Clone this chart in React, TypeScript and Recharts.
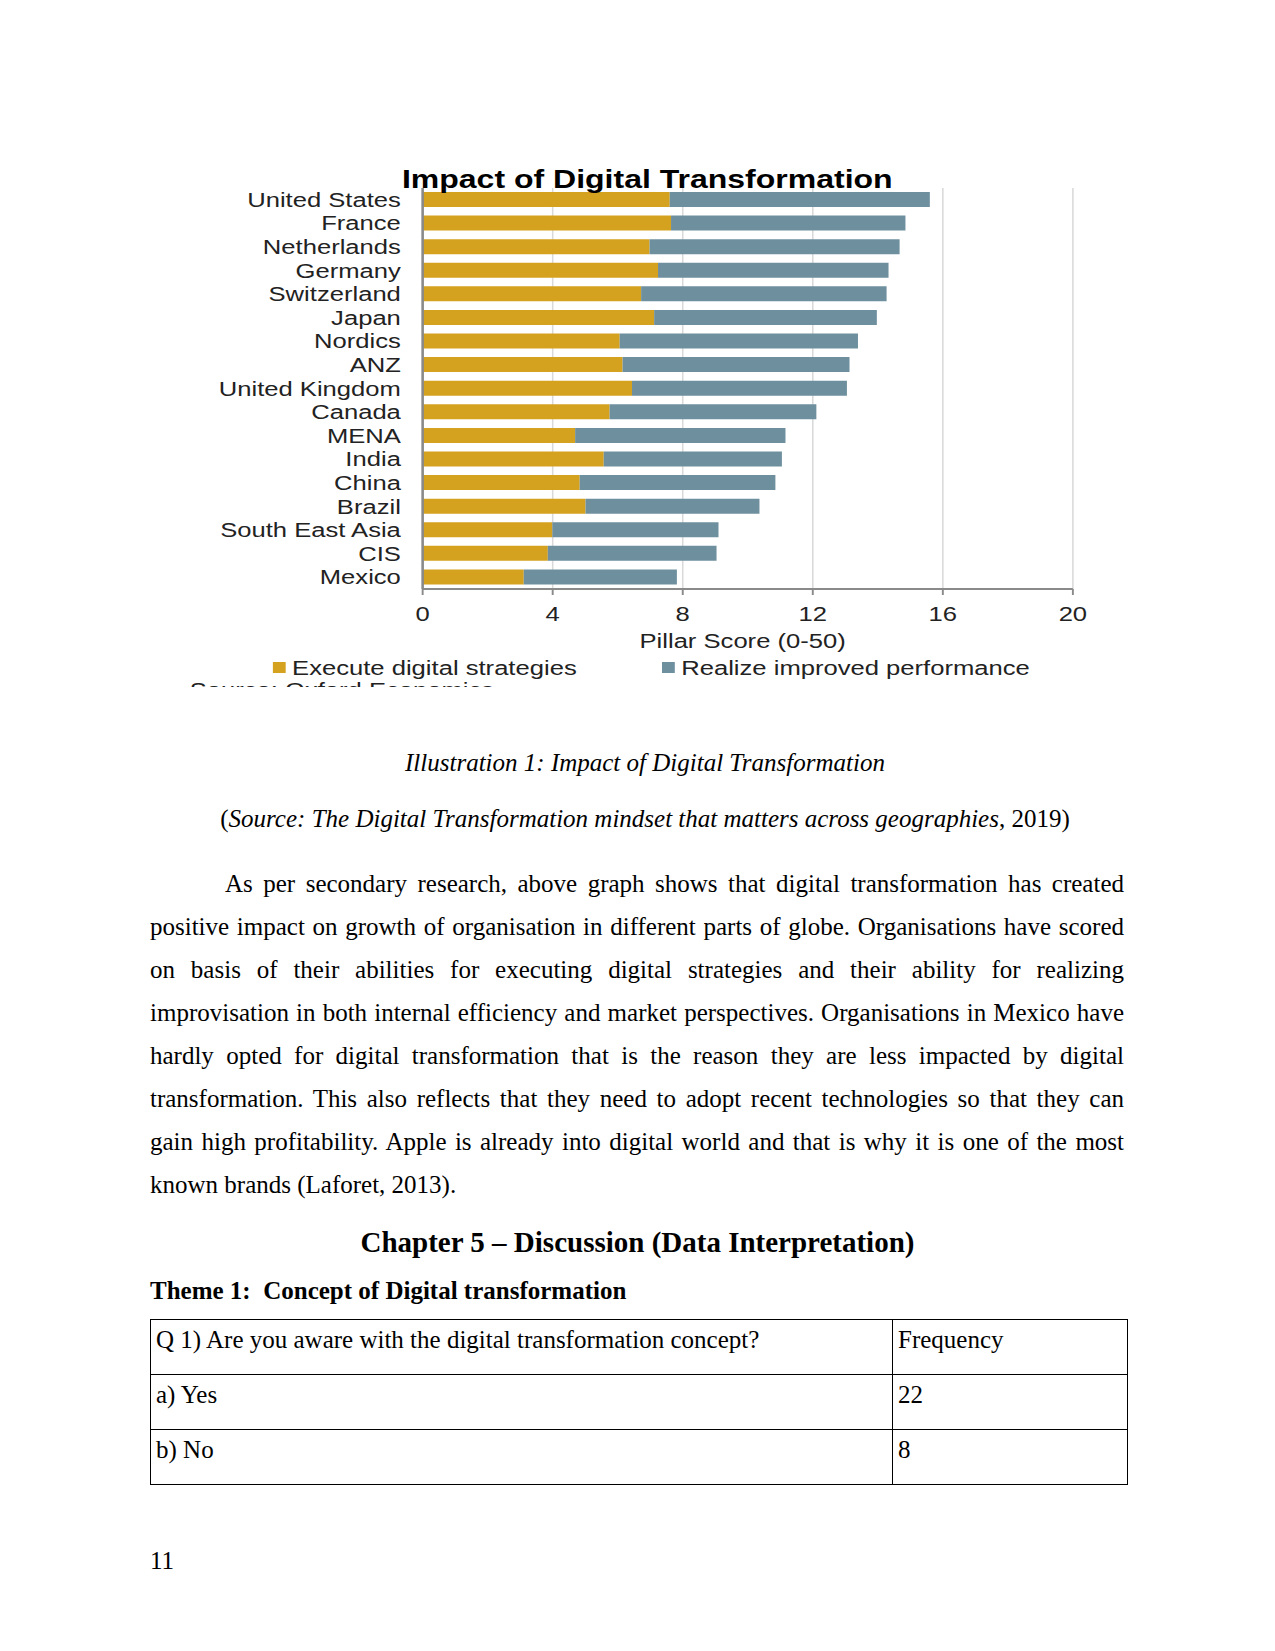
import React from "react";
import { BarChart, Bar, XAxis, YAxis, CartesianGrid, Label } from "recharts";

// chart data
const countries = [
  "United States",
  "France",
  "Netherlands",
  "Germany",
  "Switzerland",
  "Japan",
  "Nordics",
  "ANZ",
  "United Kingdom",
  "Canada",
  "MENA",
  "India",
  "China",
  "Brazil",
  "South East Asia",
  "CIS",
  "Mexico",
];
const executeScores = [7.6, 7.64, 6.98, 7.24, 6.72, 7.12, 6.06, 6.15, 6.44, 5.75, 4.69, 5.57, 4.83, 5.01, 3.99, 3.85, 3.11];
const realizeScores = [8.0, 7.21, 7.69, 7.09, 7.55, 6.85, 7.33, 6.98, 6.61, 6.36, 6.47, 5.48, 6.02, 5.35, 5.11, 5.19, 4.71];
const xTicks = [0, 4, 8, 12, 16, 20];

const seriesNames = ["Execute digital strategies", "Realize improved performance"];

const paragraphLines = [
  "As per secondary research, above graph shows that digital transformation has created",
  "positive impact on growth of organisation in different parts of globe. Organisations have scored",
  "on basis of their abilities for executing digital strategies and their ability for realizing",
  "improvisation in both internal efficiency and market perspectives. Organisations in Mexico have",
  "hardly opted for digital transformation that is the reason they are less impacted by digital",
  "transformation. This also reflects that they need to adopt recent technologies so that they can",
  "gain high profitability. Apple is already into digital world and that is why it is one of the most",
  "known brands (Laforet, 2013).",
];

const tableRows = [
  ["Q 1) Are you aware with the digital transformation concept?", "Frequency"],
  ["a) Yes", "22"],
  ["b) No", "8"],
];

const GOLD = "#D4A21F";
const SLATE = "#6E8F9E";
const AXIS = "#8a8a8a";
const INK = "#222";
const SANS = '"Liberation Sans", Arial, sans-serif';
const SERIF = '"Liberation Serif", "Times New Roman", serif';

// the chart image in the reference is stretched horizontally
const STRETCH = 1.28;
const CHART_W = 741;
const CHART_H = 515;

const chartData = countries.map((c, i) => ({
  country: c,
  execute: executeScores[i],
  realize: realizeScores[i],
}));

function ImpactChart() {
  const colors = [GOLD, SLATE];
  const legendX = [96, 400];
  return (
    <div
      style={{
        position: "absolute",
        left: 150,
        top: 150,
        width: CHART_W,
        height: 545,
        transform: `scaleX(${STRETCH})`,
        transformOrigin: "0 0",
        fontFamily: SANS,
      }}
    >
      <div
        style={{
          position: "absolute",
          left: 0,
          top: 17,
          width: 777,
          textAlign: "center",
          fontSize: 25,
          lineHeight: "25px",
          fontWeight: "bold",
          color: "#000",
          zIndex: 2,
        }}
      >
        Impact of Digital Transformation
      </div>
      <BarChart
        width={CHART_W}
        height={CHART_H}
        data={chartData}
        layout="vertical"
        margin={{ top: 38, right: 20, bottom: 16, left: 0 }}
        barSize={15}
      >
        <CartesianGrid horizontal={false} stroke="#d9d9d9" strokeWidth={1.2} />
        <XAxis
          type="number"
          domain={[0, 20]}
          ticks={xTicks}
          height={60}
          tick={{ fontSize: 20, fill: INK }}
          tickSize={6}
          tickMargin={12}
          axisLine={{ stroke: AXIS, strokeWidth: 2 }}
          tickLine={{ stroke: AXIS, strokeWidth: 1.5 }}
        >
          <Label value="Pillar Score (0-50)" position="insideBottom" offset={1} dx={-4} fontSize={20} fill={INK} />
        </XAxis>
        <YAxis
          type="category"
          dataKey="country"
          width={213}
          interval={0}
          tickSize={0}
          tickMargin={17}
          tickLine={false}
          tick={{ fontSize: 20, fill: INK }}
          axisLine={{ stroke: AXIS, strokeWidth: 2 }}
        />
        <Bar dataKey="execute" name={seriesNames[0]} stackId="s" fill={GOLD} isAnimationActive={false} />
        <Bar dataKey="realize" name={seriesNames[1]} stackId="s" fill={SLATE} isAnimationActive={false} />
      </BarChart>
      {seriesNames.map((name, i) => (
        <React.Fragment key={name}>
          <div
            style={{
              position: "absolute",
              left: legendX[i],
              top: 512,
              width: 10,
              height: 11,
              background: colors[i],
            }}
          />
          <div
            style={{
              position: "absolute",
              left: legendX[i] + 15,
              top: 507,
              fontSize: 20,
              lineHeight: "22px",
              color: INK,
              whiteSpace: "nowrap",
            }}
          >
            {name}
          </div>
        </React.Fragment>
      ))}
      {/* source line of the original image, cut off at the bottom */}
      <div style={{ position: "absolute", left: 0, top: 530, width: CHART_W, height: 7, overflow: "hidden" }}>
        <div
          style={{
            position: "absolute",
            left: 31,
            top: 0,
            fontSize: 20,
            lineHeight: "20px",
            color: INK,
            whiteSpace: "nowrap",
          }}
        >
          Source: Oxford Economics
        </div>
      </div>
    </div>
  );
}

export default function App() {
  const text: React.CSSProperties = { position: "absolute", fontFamily: SERIF, fontSize: 25, color: "#000" };
  return (
    <div style={{ position: "relative", width: 1275, height: 1651, background: "#fff", overflow: "hidden" }}>
      <style>{"body{margin:0}"}</style>
      <ImpactChart />

      <div style={{ ...text, left: 150, width: 990, top: 748, lineHeight: "30px", textAlign: "center", fontStyle: "italic" }}>
        Illustration 1: Impact of Digital Transformation
      </div>
      <div style={{ ...text, left: 150, width: 990, top: 804, lineHeight: "30px", textAlign: "center" }}>
        (<i>Source: The Digital Transformation mindset that matters across geographies</i>, 2019)
      </div>

      {paragraphLines.map((line, i) => (
        <div
          key={i}
          style={{
            ...text,
            left: i === 0 ? 225 : 150,
            width: i === 0 ? 899 : 974,
            top: 862 + i * 43,
            lineHeight: "43px",
            textAlign: i === paragraphLines.length - 1 ? "left" : "justify",
            textAlignLast: i === paragraphLines.length - 1 ? "left" : "justify",
          }}
        >
          {line}
        </div>
      ))}

      <div
        style={{
          ...text,
          left: 150,
          width: 975,
          top: 1225,
          fontSize: 29,
          lineHeight: "34px",
          textAlign: "center",
          fontWeight: "bold",
        }}
      >
        Chapter 5 – Discussion (Data Interpretation)
      </div>
      <div style={{ ...text, left: 150, top: 1276, lineHeight: "30px", fontWeight: "bold", whiteSpace: "pre" }}>
        {"Theme 1:  Concept of Digital transformation"}
      </div>

      <table
        style={{
          position: "absolute",
          left: 150,
          top: 1319,
          width: 977,
          borderCollapse: "collapse",
          tableLayout: "fixed",
          fontFamily: SERIF,
          fontSize: 25,
        }}
      >
        <colgroup>
          <col style={{ width: 742 }} />
          <col style={{ width: 235 }} />
        </colgroup>
        <tbody>
          {tableRows.map((row, r) => (
            <tr key={r} style={{ height: 55 }}>
              {row.map((cell, c) => (
                <td
                  key={c}
                  style={{
                    border: "1px solid #000",
                    verticalAlign: "top",
                    padding: "5px 6px 0 5px",
                    lineHeight: "30px",
                  }}
                >
                  {cell}
                </td>
              ))}
            </tr>
          ))}
        </tbody>
      </table>

      <div style={{ ...text, left: 150, top: 1546, lineHeight: "30px" }}>11</div>
    </div>
  );
}
